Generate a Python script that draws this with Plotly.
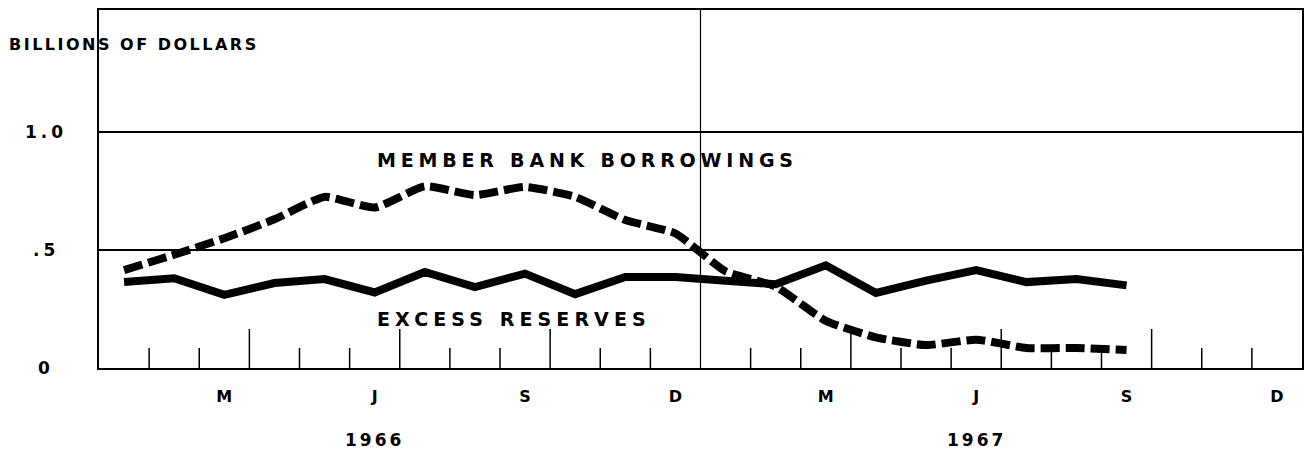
import plotly.graph_objects as go

# ---- data (monthly, Jan 1966 .. Sep 1967), billions of dollars ----
months = ["1966-01", "1966-02", "1966-03", "1966-04", "1966-05", "1966-06",
          "1966-07", "1966-08", "1966-09", "1966-10", "1966-11", "1966-12",
          "1967-01", "1967-02", "1967-03", "1967-04", "1967-05", "1967-06",
          "1967-07", "1967-08", "1967-09"]
excess_reserves = [0.364, 0.38, 0.31, 0.36, 0.377, 0.32, 0.407, 0.343, 0.40,
                   0.313, 0.386, 0.386, 0.37, 0.355, 0.435, 0.318, 0.37,
                   0.415, 0.364, 0.377, 0.35]
member_borrowings = [0.415, 0.48, 0.55, 0.63, 0.725, 0.68, 0.77, 0.733, 0.767,
                     0.725, 0.627, 0.57, 0.41, 0.345, 0.20, 0.13, 0.097, 0.12,
                     0.085, 0.085, 0.076]
tick_labels = ["M", "J", "S", "D", "M", "J", "S", "D"]
tick_months = ["1966-03", "1966-06", "1966-09", "1966-12",
               "1967-03", "1967-06", "1967-09", "1967-12"]
y_labels = ["1.0", ".5", "0"]
y_label_vals = [1.0, 0.5, 0.0]
years = ["1966", "1967"]
year_months = ["1966-06", "1967-06"]


def month_pos(m):
    y, mo = m.split("-")
    return (int(y) - 1966) * 12 + int(mo) - 1 + 0.5


x_vals = [month_pos(m) for m in months]

W, H = 1306, 454
ML, MR, MT, MB = 99, 2, 10, 86
PW, PH = W - ML - MR, H - MT - MB
YMAX = 1.517
FONT = "DejaVu Sans"


def ls(text, sp):
    return f"<span style='letter-spacing:{sp}px'>{text}</span>"


fig = go.Figure()
fig.add_trace(go.Scatter(
    x=x_vals, y=member_borrowings, mode="lines",
    line=dict(color="black", width=8, dash="19px,6px", shape="spline", smoothing=0.5),
    name="Member bank borrowings", hoverinfo="x+y"))
fig.add_trace(go.Scatter(
    x=x_vals, y=excess_reserves, mode="lines",
    line=dict(color="black", width=8),
    name="Excess reserves", hoverinfo="x+y"))

# x-axis label axis (overlay)
fig.add_trace(go.Scatter(x=[None], y=[None], xaxis="x2", showlegend=False))

shapes = []
for k in range(1, 24):
    if k == 12:
        continue
    length = 39 if k % 3 == 0 else 20
    shapes.append(dict(type="line", xref="x", yref="y", x0=k, x1=k,
                       ysizemode="pixel", yanchor=0, y0=0, y1=length,
                       line=dict(color="black", width=1.5)))
# year divider
shapes.append(dict(type="line", xref="x", yref="paper", x0=12, x1=12, y0=0, y1=1,
                   line=dict(color="black", width=1.2)))

annotations = []
for lab, v in zip(y_labels, y_label_vals):
    annotations.append(dict(text=ls(lab, 4), xref="paper", yref="y",
                            x=(46 - ML) / PW, y=v, xanchor="center", yanchor="middle",
                            showarrow=False,
                            font=dict(family=FONT, size=17, color="black", weight="bold")))
annotations.append(dict(text=ls("BILLIONS OF DOLLARS", 2.5), xref="paper", yref="paper",
                        x=(7 - ML) / PW, y=(H - MB - 45) / PH, xanchor="left",
                        yanchor="middle", showarrow=False,
                        font=dict(family=FONT, size=16, color="black", weight="bold")))
annotations.append(dict(text=ls("MEMBER BANK BORROWINGS", 4.8), xref="paper", yref="paper",
                        x=(375 - ML) / PW, y=(H - MB - 160) / PH, xanchor="left",
                        yanchor="middle", showarrow=False,
                        font=dict(family=FONT, size=19, color="black", weight="bold")))
annotations.append(dict(text=ls("EXCESS RESERVES", 5.1), xref="paper", yref="paper",
                        x=(375 - ML) / PW, y=(H - MB - 319) / PH, xanchor="left",
                        yanchor="middle", showarrow=False,
                        font=dict(family=FONT, size=19, color="black", weight="bold")))
for yr, ym in zip(years, year_months):
    annotations.append(dict(text=ls(yr, 3), xref="x", yref="paper",
                            x=month_pos(ym), y=(H - MB - 440) / PH,
                            xanchor="center", yanchor="middle", showarrow=False,
                            font=dict(family=FONT, size=17, color="black", weight="bold")))

fig.update_layout(
    width=W, height=H,
    margin=dict(l=ML, r=MR, t=MT, b=MB),
    paper_bgcolor="white", plot_bgcolor="white",
    showlegend=False,
    xaxis=dict(range=[0, 24], showgrid=False, zeroline=False,
               showline=True, mirror=True, linecolor="black", linewidth=1.5,
               showticklabels=False, ticks=""),
    xaxis2=dict(overlaying="x", matches="x", anchor="y", side="bottom",
                showgrid=False, zeroline=False, showline=False, ticks="",
                tickmode="array", tickvals=[month_pos(m) for m in tick_months],
                ticktext=tick_labels, ticklabelstandoff=17,
                tickfont=dict(family=FONT, size=16, color="black", weight="bold")),
    yaxis=dict(range=[0, YMAX], tickmode="array", tickvals=[0.5, 1.0],
               showgrid=True, gridcolor="black", gridwidth=1.5,
               zeroline=False, showline=True, mirror=True, linecolor="black",
               linewidth=1.5, showticklabels=False, ticks=""),
    shapes=shapes,
    annotations=annotations,
)

fig.write_html("out.html", config={"displayModeBar": False},
               post_script="document.body.style.margin='0';document.body.style.padding='0';")
